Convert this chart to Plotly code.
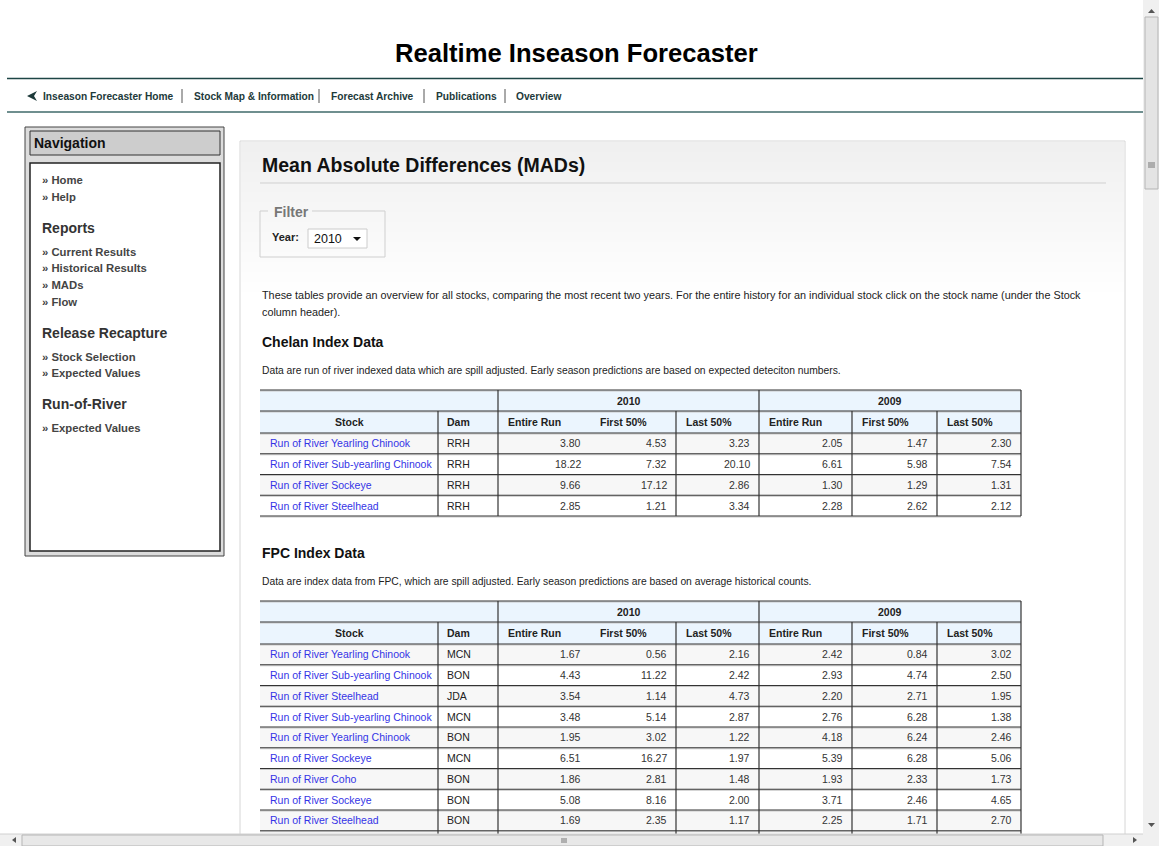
import plotly.graph_objs as go

W, H = 1159, 846
FONT = "Liberation Sans"

# ---- data ----
nav_items = ["Inseason Forecaster Home", "Stock Map & Information", "Forecast Archive",
             "Publications", "Overview"]
side_links = [("link", "Home"), ("link", "Help"), ("head", "Reports"),
              ("link", "Current Results"), ("link", "Historical Results"), ("link", "MADs"),
              ("link", "Flow"), ("head", "Release Recapture"), ("link", "Stock Selection"),
              ("link", "Expected Values"), ("head", "Run-of-River"), ("link", "Expected Values")]
years = ["2010", "2009"]
col_labels = ["Entire Run", "First 50%", "Last 50%", "Entire Run", "First 50%", "Last 50%"]

chelan_stocks = ["Run of River Yearling Chinook", "Run of River Sub-yearling Chinook",
                 "Run of River Sockeye", "Run of River Steelhead"]
chelan_dams = ["RRH", "RRH", "RRH", "RRH"]
chelan_2010_entire = [3.80, 18.22, 9.66, 2.85]
chelan_2010_first = [4.53, 7.32, 17.12, 1.21]
chelan_2010_last = [3.23, 20.10, 2.86, 3.34]
chelan_2009_entire = [2.05, 6.61, 1.30, 2.28]
chelan_2009_first = [1.47, 5.98, 1.29, 2.62]
chelan_2009_last = [2.30, 7.54, 1.31, 2.12]

fpc_stocks = ["Run of River Yearling Chinook", "Run of River Sub-yearling Chinook",
              "Run of River Steelhead", "Run of River Sub-yearling Chinook",
              "Run of River Yearling Chinook", "Run of River Sockeye", "Run of River Coho",
              "Run of River Sockeye", "Run of River Steelhead"]
fpc_dams = ["MCN", "BON", "JDA", "MCN", "BON", "MCN", "BON", "BON", "BON"]
fpc_2010_entire = [1.67, 4.43, 3.54, 3.48, 1.95, 6.51, 1.86, 5.08, 1.69]
fpc_2010_first = [0.56, 11.22, 1.14, 5.14, 3.02, 16.27, 2.81, 8.16, 2.35]
fpc_2010_last = [2.16, 2.42, 4.73, 2.87, 1.22, 1.97, 1.48, 2.00, 1.17]
fpc_2009_entire = [2.42, 2.93, 2.20, 2.76, 4.18, 5.39, 1.93, 3.71, 2.25]
fpc_2009_first = [0.84, 4.74, 2.71, 6.28, 6.24, 6.28, 2.33, 2.46, 1.71]
fpc_2009_last = [3.02, 2.50, 1.95, 1.38, 2.46, 5.06, 1.73, 4.65, 2.70]

shapes = []
notes = []


def rect(x0, y0, x1, y1, fill=None, line=None, lw=1):
    shapes.append(dict(type="rect", x0=x0, y0=y0, x1=x1, y1=y1, xref="x", yref="y",
                       fillcolor=fill or "rgba(0,0,0,0)",
                       line=dict(color=line or "rgba(0,0,0,0)", width=lw if line else 0)))


def seg(x0, y0, x1, y1, color, lw=1):
    shapes.append(dict(type="line", x0=x0, y0=y0, x1=x1, y1=y1, xref="x", yref="y",
                       line=dict(color=color, width=lw)))


def path(p, fill):
    shapes.append(dict(type="path", path=p, xref="x", yref="y", fillcolor=fill,
                       line=dict(width=0)))


def text(x, y, s, size, color="#222", bold=False, anchor="left"):
    notes.append(dict(x=x, y=y, xref="x", yref="y", text="<b>%s</b>" % s if bold else s,
                      showarrow=False, xanchor=anchor, yanchor="middle",
                      font=dict(family=FONT, size=size, color=color)))


# ---- header ----
text(576, 53, "Realtime Inseason Forecaster", 25.6, "#000", True, "center")
seg(7, 78.5, 1143, 78.5, "#1d4646", 1.5)
seg(7, 112, 1143, 112, "#6f8f8f", 2)
path("M 37 91 L 27 96 L 37 101 L 34 96 Z", "#1d3a3a")
nav_x = [41, 192, 329, 434, 514]
for i, item in enumerate(nav_items):
    text(nav_x[i], 96, item.replace("&", "&amp;"), 10.2, "#1d3a3a", True)
for sx in [182, 319, 424, 505]:
    seg(sx, 89, sx, 103, "#555", 1)

# ---- side navigation ----
rect(25, 127, 224, 556, "#dcdcdc", "#444", 1)
rect(30, 131, 220, 155, "#cdcdcd", "#333", 1)
text(32, 143, "Navigation", 14, "#111", True)
rect(30, 163, 220, 551, "#ffffff", "#222", 1.5)
y = 180
for kind, label in side_links:
    if kind == "head":
        y += 14.5
        text(40, y, label, 14, "#333", True)
        y += 24
    else:
        text(40, y, "» " + label, 11.3, "#444", True)
        y += 16.6

# ---- main content panel ----
rect(240, 141, 1125, 900, "#ffffff", "#d6d6d6", 1)
n_bands = 30
for i in range(n_bands):
    c = int(240 + 15 * i / n_bands)
    rect(241, 142 + i * 5, 1124, 147 + i * 5, "rgb(%d,%d,%d)" % (c, c, c))
text(260, 165, "Mean Absolute Differences (MADs)", 19.5, "#111", True)
seg(260, 183, 1106, 183, "#cfcfcf", 1)

# filter fieldset
seg(260, 211, 268, 211, "#cfcfcf")
seg(312, 211, 385, 211, "#cfcfcf")
seg(260, 211, 260, 257, "#cfcfcf")
seg(385, 211, 385, 257, "#cfcfcf")
seg(260, 257, 385, 257, "#cfcfcf")
text(272, 212, "Filter", 14, "#777", True)
text(270, 237, "Year:", 11, "#222", True)
rect(308, 229, 367, 248, "#ffffff", "#cccccc", 1)
text(312, 239, years[0], 12.5, "#111")
path("M 353 237 L 361 237 L 357 241 Z", "#111")

text(260, 295, "These tables provide an overview for all stocks, comparing the most recent two years. "
               "For the entire history for an individual stock click on the stock name (under the Stock",
     10.84, "#222")
text(260, 312, "column header).", 10.84, "#222")


def draw_table(top, title, desc, stocks, dams, cols, extend=False):
    text(260, top - 48, title, 14, "#111", True)
    text(260, top - 20, desc, 10.3, "#222")
    rh = 20.75
    y_hdr = top + 21
    y_data = top + 43
    n = len(stocks)
    bottom = y_data + n * rh
    rect(260, top, 1021, y_data, "#ebf5fe")
    for i in range(n):
        rect(260, y_data + i * rh, 1021, y_data + (i + 1) * rh,
             "#f7f7f7" if i % 2 == 0 else "#ffffff")
    ys = [top, y_hdr, y_data] + [y_data + (i + 1) * rh for i in range(n)]
    for yy in ys:
        seg(260, yy + 1, 1021, yy + 1, "#c8c8c8", 1)
        seg(260, yy, 1021, yy, "#333", 1.2)
    for vx in [498, 759, 1021]:
        seg(vx, top, vx, y_hdr, "#333", 1.2)
    vbottom = 846 if extend else bottom
    for vx in [438, 498, 676, 759, 852, 937, 1021]:
        seg(vx, y_hdr, vx, vbottom, "#333", 1.2)
    # headers
    text((498 + 759) / 2, top + 10.5, years[0], 10.5, "#222", True, "center")
    text((759 + 1021) / 2, top + 10.5, years[1], 10.5, "#222", True, "center")
    text(349, y_hdr + 11, "Stock", 10.5, "#222", True, "center")
    text(445, y_hdr + 11, "Dam", 10.5, "#222", True)
    col_left = [498, 590, 676, 759, 852, 937]
    col_right = [590, 676, 759, 852, 937, 1021]
    for j, lab in enumerate(col_labels):
        text(col_left[j] + 8, y_hdr + 11, lab, 10.5, "#222", True)
    for i in range(n):
        yc = y_data + (i + 0.5) * rh
        text(268, yc, stocks[i], 10.5, "#3434e6")
        text(445, yc, dams[i], 10.5, "#222")
        for j in range(6):
            text(col_right[j] - 7, yc, "%.2f" % cols[j][i], 10.5, "#333", anchor="right")


draw_table(390, "Chelan Index Data",
           "Data are run of river indexed data which are spill adjusted. "
           "Early season predictions are based on expected deteciton numbers.",
           chelan_stocks, chelan_dams,
           [chelan_2010_entire, chelan_2010_first, chelan_2010_last,
            chelan_2009_entire, chelan_2009_first, chelan_2009_last])

draw_table(601, "FPC Index Data",
           "Data are index data from FPC, which are spill adjusted. "
           "Early season predictions are based on average historical counts.",
           fpc_stocks, fpc_dams,
           [fpc_2010_entire, fpc_2010_first, fpc_2010_last,
            fpc_2009_entire, fpc_2009_first, fpc_2009_last], extend=True)

# ---- browser scrollbars ----
rect(1143, 0, 1159, 846, "#f0f0f0")
rect(1145, 17, 1158, 189, "#e4e4e4", "#b5b5b5", 1)
seg(1148, 163, 1155, 163, "#777")
seg(1148, 165, 1155, 165, "#777")
seg(1148, 167, 1155, 167, "#777")
path("M 1148 13 L 1155 13 L 1151.5 9 Z", "#555")
path("M 1148 823 L 1155 823 L 1151.5 827 Z", "#555")
rect(0, 834, 1143, 846, "#f0f0f0")
seg(0, 834, 1143, 834, "#d0d0d0")
rect(22, 835, 1103, 846, "#e8e8e8", "#b5b5b5", 1)
seg(562, 838, 562, 843, "#777")
seg(564, 838, 564, 843, "#777")
seg(566, 838, 566, 843, "#777")
path("M 16 837 L 16 843 L 12 840 Z", "#555")
path("M 1133 837 L 1133 843 L 1137 840 Z", "#555")

fig = go.Figure()
fig.update_layout(
    width=W, height=H,
    margin=dict(l=0, r=0, t=0, b=0),
    paper_bgcolor="#ffffff", plot_bgcolor="#ffffff",
    xaxis=dict(range=[0, W], visible=False, fixedrange=True),
    yaxis=dict(range=[H, 0], visible=False, fixedrange=True),
    shapes=shapes, annotations=notes, showlegend=False,
)
# drop the default page margin so the figure fills the window exactly
fig.write_html("out.html", config={"displayModeBar": False},
               post_script="document.body.style.margin='0';document.body.style.overflow='hidden';")
